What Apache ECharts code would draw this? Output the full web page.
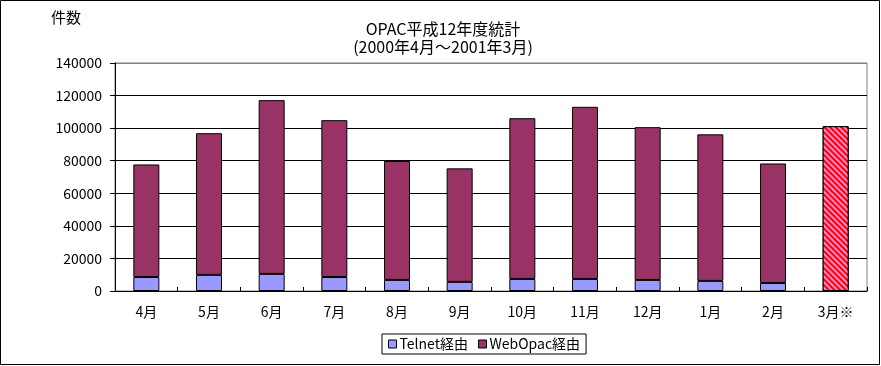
<!DOCTYPE html>
<html><head><meta charset="utf-8">
<script src="https://cdn.jsdelivr.net/npm/echarts@6/dist/echarts.min.js"></script>
<style>html,body{margin:0;padding:0;background:#fff}#c{width:881px;height:366px}</style>
</head><body><div id="c"></div>
<script>
var months = ['4月','5月','6月','7月','8月','9月','10月','11月','12月','1月','2月','3月※'];
var telnet = [8600, 9900, 10500, 8600, 6800, 5600, 7400, 7400, 6800, 6200, 4900, '-'];
var webopac = [69100, 87000, 106700, 96300, 73000, 69700, 98700, 105700, 93800, 90000, 73400, 101200];
var yTicks = [0, 20000, 40000, 60000, 80000, 100000, 120000, 140000];
var FONT = '"Noto Sans CJK JP", sans-serif';

var webData = webopac.map(function (v, i) {
  if (i === months.length - 1) {
    return {
      value: v,
      itemStyle: {
        color: '#FF0000',
        decal: { symbol: 'rect', color: '#FF88CC', dashArrayX: [1, 0], dashArrayY: [2, 2], rotation: Math.PI / 4, symbolSize: 1 }
      }
    };
  }
  return v;
});

var chart = echarts.init(document.getElementById('c'), null, { renderer: 'canvas' });
chart.setOption({
  backgroundColor: '#fff',
  animation: false,
  textStyle: { fontFamily: FONT },
  title: {
    text: 'OPAC平成12年度統計\n(2000年4月～2001年3月)',
    left: 438, top: 15, textAlign: 'center',
    textStyle: { fontSize: 16, fontWeight: 'normal', color: '#000', lineHeight: 18, fontFamily: FONT }
  },
  graphic: [
    { type: 'rect', shape: { x: 0.5, y: 0.5, width: 879, height: 364 }, style: { fill: 'none', stroke: '#000', lineWidth: 1 }, silent: true },
    { type: 'text', left: 51, top: 10, style: { text: '件数', font: '15px ' + FONT, fill: '#000' } }
  ],
  legend: {
    left: 382, top: 334,
    itemWidth: 8, itemHeight: 8, itemGap: 10,
    icon: 'rect',
    borderColor: '#000', borderWidth: 1, padding: [3, 6, 3, 6],
    backgroundColor: '#fff',
    textStyle: { fontSize: 14, color: '#000', fontFamily: FONT, padding: [0, 0, 0, -2] },
    data: [
      { name: 'Telnet経由', itemStyle: { borderColor: '#000', borderWidth: 1 } },
      { name: 'WebOpac経由', itemStyle: { borderColor: '#000', borderWidth: 1 } }
    ]
  },
  grid: { left: 115, right: 14, top: 63, bottom: 75, show: true, borderColor: '#808080', borderWidth: 1 },
  xAxis: {
    type: 'category', data: months,
    axisLine: { lineStyle: { color: '#000', width: 1 } },
    axisTick: { show: true, inside: true, length: 4, lineStyle: { color: '#000' } },
    axisLabel: { color: '#000', fontSize: 14, margin: 14, fontFamily: FONT }
  },
  yAxis: {
    type: 'value', min: 0, max: 140000, interval: 20000,
    axisLine: { show: true, lineStyle: { color: '#000' } },
    axisTick: { show: true, length: 5, lineStyle: { color: '#000' } },
    axisLabel: { color: '#000', fontSize: 14, margin: 13, fontFamily: FONT,
      formatter: function (v) { return yTicks.indexOf(v) >= 0 ? String(v) : ''; } },
    splitLine: { show: true, lineStyle: { color: ['#000','#000','#000','#000','#000','#000','#000','#808080'], width: 1 } }
  },
  series: [
    { name: 'Telnet経由', type: 'bar', stack: 'a', barWidth: 26, data: telnet,
      itemStyle: { color: '#9999FF', borderColor: '#000', borderWidth: 1 } },
    { name: 'WebOpac経由', type: 'bar', stack: 'a', barWidth: 26, data: webData,
      itemStyle: { color: '#993366', borderColor: '#000', borderWidth: 1 } }
  ]
});
</script></body></html>
